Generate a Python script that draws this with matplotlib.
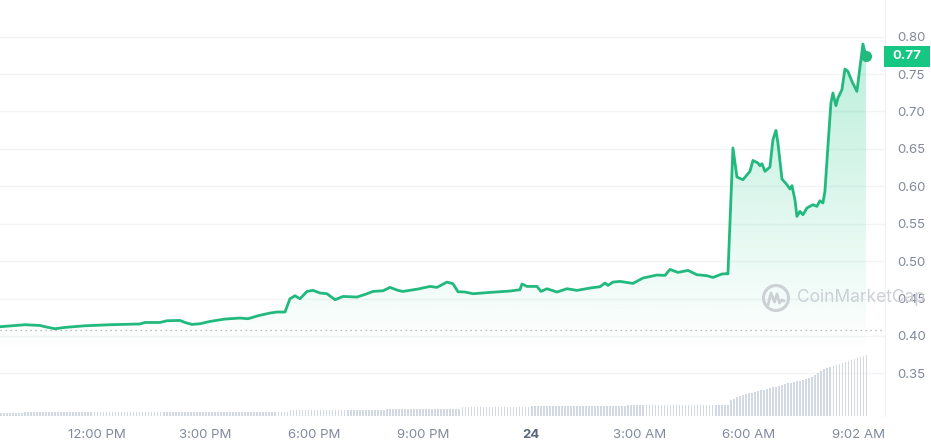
import matplotlib
matplotlib.use('agg')
import matplotlib.pyplot as plt
import matplotlib.transforms as mtransforms
import numpy as np
from matplotlib.patches import Circle, Rectangle

plt.rcParams['font.family'] = ['Inter', 'DejaVu Sans']

# hours relative to 12:00 PM on the 23rd
price_hours = [
    -2.680, -1.989, -1.575, -1.436, -1.160, -0.884, -0.331, 0.359, 1.188, 1.326,
    1.740, 1.934, 2.293, 2.431, 2.624, 2.845, 3.122, 3.536, 3.950, 4.171,
    4.448, 4.779, 4.972, 5.193, 5.331, 5.470, 5.608, 5.801, 5.967, 6.160,
    6.354, 6.575, 6.796, 7.182, 7.459, 7.624, 7.901, 8.094, 8.315, 8.453,
    8.867, 9.199, 9.392, 9.669, 9.834, 9.972, 10.166, 10.387, 10.856, 11.409,
    11.685, 11.740, 11.878, 12.155, 12.265, 12.431, 12.707, 12.983, 13.260, 13.619,
    13.895, 14.033, 14.116, 14.254, 14.448, 14.807, 15.083, 15.470, 15.691, 15.829,
    16.050, 16.326, 16.575, 16.851, 17.017, 17.265, 17.403, 17.431, 17.569, 17.680,
    17.845, 18.039, 18.122, 18.260, 18.315, 18.370, 18.453, 18.591, 18.674, 18.757,
    18.812, 18.923, 19.061, 19.144, 19.199, 19.282, 19.337, 19.420, 19.503, 19.613,
    19.779, 19.890, 19.972, 20.055, 20.110, 20.193, 20.276, 20.331, 20.414, 20.470,
    20.580, 20.663, 20.746, 20.856, 20.994, 21.160, 21.243,
]
price_values = [
    0.4123, 0.4150, 0.4140, 0.4123, 0.4096, 0.4114, 0.4136, 0.4150, 0.4160, 0.4180,
    0.4180, 0.4203, 0.4207, 0.4180, 0.4154, 0.4163, 0.4194, 0.4226, 0.4239, 0.4230,
    0.4270, 0.4306, 0.4320, 0.4320, 0.4497, 0.4537, 0.4497, 0.4595, 0.4609, 0.4574,
    0.4564, 0.4484, 0.4528, 0.4520, 0.4564, 0.4595, 0.4604, 0.4649, 0.4609, 0.4595,
    0.4627, 0.4662, 0.4649, 0.4720, 0.4698, 0.4591, 0.4587, 0.4564, 0.4582, 0.4600,
    0.4618, 0.4694, 0.4662, 0.4662, 0.4595, 0.4631, 0.4587, 0.4631, 0.4609, 0.4640,
    0.4658, 0.4707, 0.4675, 0.4720, 0.4729, 0.4702, 0.4774, 0.4814, 0.4809, 0.4889,
    0.4849, 0.4876, 0.4818, 0.4805, 0.4782, 0.4828, 0.4832, 0.4830, 0.6512, 0.6124,
    0.6088, 0.6200, 0.6346, 0.6311, 0.6275, 0.6302, 0.6200, 0.6258, 0.6623, 0.6747,
    0.6579, 0.6098, 0.6021, 0.5964, 0.6008, 0.5821, 0.5598, 0.5665, 0.5620, 0.5710,
    0.5754, 0.5732, 0.5807, 0.5777, 0.5932, 0.6534, 0.7114, 0.7247, 0.7078, 0.7180,
    0.7291, 0.7568, 0.7536, 0.7403, 0.7269, 0.7902, 0.7737,
]
open_price = 0.4074

# 5-minute volume bars, (height, number of bars) then the rising tail
volume_runs = [(3.5, 8), (4, 88), (6, 32), (7.5, 25), (9, 23), (10, 32), (11, 34)]
volume_tail = [16, 17, 19, 20, 21, 22, 23, 23, 24, 25, 26, 26, 27, 28, 29, 29,
               30, 31, 32, 33, 33, 34, 35, 35, 36, 37, 38, 39, 41, 43, 45, 47,
               48, 49, 50, 51, 52, 53, 54, 55, 56, 57, 58, 59, 60, 61]

y_ticks = [0.35, 0.40, 0.45, 0.50, 0.55, 0.60, 0.65, 0.70, 0.75, 0.80]
x_tick_hours = [0, 3, 6, 9, 12, 15, 18, 21 + 2 / 60]
x_tick_labels = ["12:00 PM", "3:00 PM", "6:00 PM", "9:00 PM", "24",
                 "3:00 AM", "6:00 AM", "9:02 AM"]

green = "#16c784"
line_green = "#22b97f"
grey_text = "#808a9d"

fig = plt.figure(figsize=(9.31, 4.45), dpi=100)
ax = fig.add_axes([0, 29 / 445, 885 / 931, 416 / 445])
xmin, xmax = -2.68, 21.77
ymin, ymax = 0.293, 0.849
ax.set_xlim(xmin, xmax)
ax.set_ylim(ymin, ymax)

for v in y_ticks:
    ax.axhline(v, color="#f3f4f6", lw=1, zorder=0)
ax.axhline(open_price, color="#a6abb3", lw=0.9, ls=(0, (1, 3)), zorder=1)

# gradient fill under the line
poly = ax.fill_between(price_hours, price_values, ymin, facecolor="none",
                       edgecolor="none")
yy = np.linspace(ymin, ymax, 300)
alpha = np.clip((yy - 0.38) / (0.80 - 0.38), 0, 1.1) * 0.30
rgba = np.zeros((300, 1, 4))
rgba[..., :3] = matplotlib.colors.to_rgb(green)
rgba[:, 0, 3] = alpha
im = ax.imshow(rgba, extent=[xmin, xmax, ymin, ymax], origin="lower",
               aspect="auto", zorder=2, interpolation="bilinear")
im.set_clip_path(poly.get_paths()[0], transform=ax.transData)

ax.plot(price_hours, price_values, color=line_green, lw=2.0, zorder=4,
        solid_joinstyle="round")
ax.plot(price_hours[-1], price_values[-1], "o", color=line_green, ms=7, zorder=5)

# volume bars on a twin axis
ax2 = ax.twinx()
vol = np.concatenate([np.repeat(h, n) for h, n in volume_runs] + [volume_tail])
vol_hours = xmin + np.arange(len(vol)) * 5 / 60
ax2.bar(vol_hours, vol, width=0.045, color="#d3d9e3", align="edge", zorder=1)
ax2.set_ylim(0, max(vol) * 416 / 61)
ax2.set_yticks([])
for a in (ax, ax2):
    for s in a.spines.values():
        s.set_visible(False)
ax.spines["right"].set_visible(True)
ax.spines["right"].set_color("#eff1f4")

ax.yaxis.tick_right()
ax.set_yticks(y_ticks)
ax.set_yticklabels([f"{v:.2f}" for v in y_ticks])
ax.tick_params(axis="y", length=0, pad=9, labelsize=9.5, labelcolor=grey_text)
ax.set_xticks(x_tick_hours)
ax.set_xticklabels(x_tick_labels)
ax.tick_params(axis="x", length=0, pad=9, labelsize=9.5, labelcolor=grey_text)
for lab in ax.get_xticklabels():
    if lab.get_text() == "24":
        lab.set_fontweight("bold")
        lab.set_color("#58667e")

# last price tag
trans = mtransforms.blended_transform_factory(ax.transAxes, ax.transData)
tag_h = 21 / 748
ax.add_patch(Rectangle((884 / 885, price_values[-1] - tag_h / 2), 46 / 885, tag_h,
                       transform=trans, facecolor=green, edgecolor="none",
                       clip_on=False, zorder=6))
ax.text(907 / 885, price_values[-1], f"{price_values[-1]:.2f}", transform=trans,
        ha="center", va="center", color="white", fontsize=9.5,
        fontweight="bold", zorder=7, clip_on=False)

# watermark
wm = "#cdd0d5"
fig.add_artist(Circle((7.76, 1.47), 0.125, transform=fig.dpi_scale_trans,
                      fill=False, edgecolor=wm, lw=2.2, zorder=8))
wx = np.array([7.68, 7.71, 7.745, 7.77, 7.795, 7.82, 7.84])
wy = np.array([1.40, 1.52, 1.43, 1.51, 1.42, 1.45, 1.44])
fig.add_artist(plt.Line2D(wx, wy, transform=fig.dpi_scale_trans, color=wm,
                          lw=2, zorder=8, solid_capstyle="round"))
fig.text(7.97 / 9.31, 1.47 / 4.45, "CoinMarketCap", color=wm, fontsize=12.5,
         va="center", ha="left", zorder=8)

fig.savefig("out.png", dpi=100)
